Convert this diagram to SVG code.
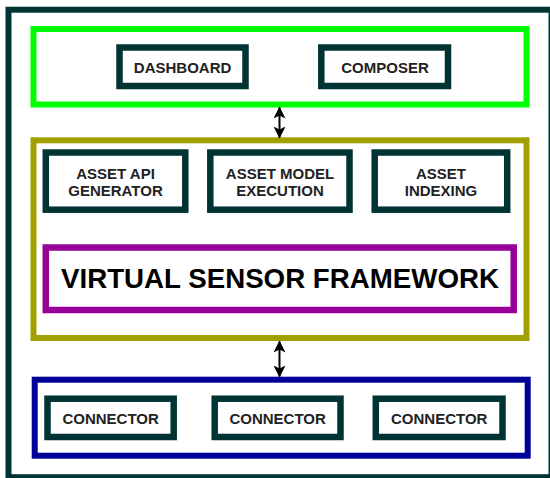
<svg xmlns="http://www.w3.org/2000/svg" width="550" height="478" viewBox="0 0 550 478">
<style>
.box{fill:#ffffff;stroke:#003333;stroke-width:6.5}
.lbl{font-family:"Liberation Sans",Arial,sans-serif;font-weight:bold;font-size:15px;fill:#222222;text-anchor:middle}
.big{font-family:"Liberation Sans",Arial,sans-serif;font-weight:bold;font-size:27.7px;fill:#000000;text-anchor:middle}
.conn{stroke:#000000;stroke-width:2;fill:none}
</style>
<defs>
<marker id="ah" viewBox="0 0 12 12" refX="11" refY="6" markerWidth="12" markerHeight="12" markerUnits="userSpaceOnUse" orient="auto-start-reverse">
<path d="M0,0 L12,6 L0,12 L3,6 Z" fill="#000000"/>
</marker>
</defs>
<rect width="550" height="478" fill="#ffffff"/>
<g id="frame"><rect x="8.5" y="9.7" width="543" height="467.5" fill="none" stroke="#003333" stroke-width="6"/></g>
<g id="ui-layer"><rect x="33.5" y="29" width="493" height="75.5" fill="none" stroke="#00ff00" stroke-width="6"/></g>
<g id="dashboard"><rect class="box" x="119.5" y="47.5" width="126" height="38.5"/><text class="lbl" x="182.6" y="73">DASHBOARD</text></g>
<g id="composer"><rect class="box" x="321.3" y="47.5" width="126.7" height="38.5"/><text class="lbl" x="385" y="73">COMPOSER</text></g>
<g id="core-layer"><rect x="33.5" y="140.3" width="493" height="197.7" fill="none" stroke="#a0a000" stroke-width="6"/></g>
<g id="asset-api"><rect class="box" x="45.8" y="152.5" width="139.5" height="57.2"/><text class="lbl" x="115.5" y="179">ASSET API</text><text class="lbl" x="115.5" y="196">GENERATOR</text></g>
<g id="asset-model"><rect class="box" x="210.3" y="152.5" width="139.2" height="57.2"/><text class="lbl" x="280" y="179">ASSET MODEL</text><text class="lbl" x="280" y="196">EXECUTION</text></g>
<g id="asset-indexing"><rect class="box" x="374.7" y="152.5" width="132.5" height="57.2"/><text class="lbl" x="441" y="179">ASSET</text><text class="lbl" x="441" y="196">INDEXING</text></g>
<g id="vsf"><rect x="45.8" y="247.5" width="467.9" height="62.5" fill="#ffffff" stroke="#990099" stroke-width="6.5"/><text class="big" x="280" y="288.3">VIRTUAL SENSOR FRAMEWORK</text></g>
<g id="connector-layer"><rect x="34.7" y="379.7" width="493" height="76" fill="none" stroke="#000099" stroke-width="6"/></g>
<g id="connector1"><rect class="box" x="47.5" y="398.7" width="126.2" height="38.3"/><text class="lbl" x="110.6" y="424.3">CONNECTOR</text></g>
<g id="connector2"><rect class="box" x="214.7" y="398.7" width="125.8" height="38.3"/><text class="lbl" x="277.6" y="424.3">CONNECTOR</text></g>
<g id="connector3"><rect class="box" x="375.8" y="398.7" width="126.7" height="38.3"/><text class="lbl" x="439.2" y="424.3">CONNECTOR</text></g>
<g id="connectors">
<line class="conn" x1="279.5" y1="107.5" x2="279.5" y2="137.5" marker-start="url(#ah)" marker-end="url(#ah)"/>
<line class="conn" x1="279.5" y1="341.5" x2="279.5" y2="376.5" marker-start="url(#ah)" marker-end="url(#ah)"/>
</g>
</svg>
